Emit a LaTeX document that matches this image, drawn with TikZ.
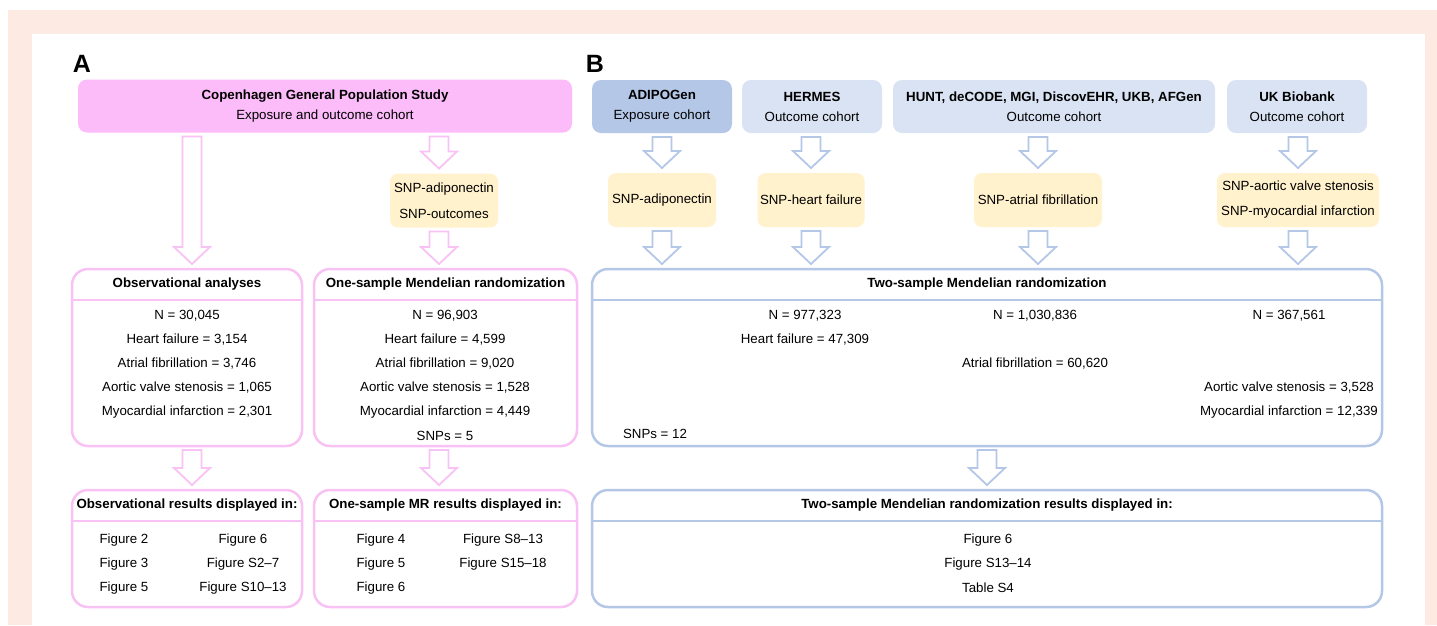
\documentclass[tikz,border=0pt]{standalone}
\usepackage{fontspec}
\setmainfont{Liberation Sans}
\usepackage{tikz}
\usetikzlibrary{arrows.meta}
\usetikzlibrary{positioning}
\usetikzlibrary{calc}

\definecolor{peach}{HTML}{FCEAE3}
\definecolor{pinkfill}{HTML}{FCBBF9}
\definecolor{pinkline}{HTML}{F8C2F4}
\definecolor{bluedark}{HTML}{B4C7E7}
\definecolor{bluelight}{HTML}{DAE3F3}
\definecolor{yellowfill}{HTML}{FFF2CC}

\tikzset{
	every node/.style={font=\fontsize{13.3}{20}\selectfont, inner sep=0pt, outer sep=0pt},
	panel/.style={font=\fontsize{25}{25}\selectfont\bfseries},
	cohort/.style={rounded corners=9pt, minimum height=53pt, align=center},
	snpbox/.style={fill=yellowfill, rounded corners=8pt, minimum height=54pt, align=center},
	bigbox/.style={draw, line width=2.5pt, fill=white, rounded corners=16pt},
	fatarrow/.style={line width=1.8pt, line join=miter, to path={let \p1=(\tikztostart), \p2=(\tikztotarget) in
		(\x1-9.5,\y1-4) -- (\x1+9.5,\y1-4) -- (\x1+9.5,\y2+22) -- (\x1+18,\y2+22) -- (\x1,\y2+5)
		-- (\x1-18,\y2+22) -- (\x1-9.5,\y2+22) -- cycle}},
	pinkarrow/.style={fatarrow, draw=pinkline},
	bluearrow/.style={fatarrow, draw=bluedark},
}

\begin{document}
\begin{tikzpicture}[x=1pt, y=-1pt, >=Stealth]
	\useasboundingbox (0,0) rectangle (1437,625);
	\fill[peach] (8,10) rectangle (1437,625);
	\fill[white] (32,34) rectangle (1425,625);

	% panel A
	\node[panel] (labA) at (82,64) {A};
	\node[cohort, fill=pinkfill, minimum width=494pt] (cgps) at (325,106) {\textbf{Copenhagen General Population Study}\\Exposure and outcome cohort};
	\node[snpbox, minimum width=108pt] (snpA) at (444,200.5) {SNP-adiponectin\\[6pt]SNP-outcomes};
	\coordinate (colL) at (192,0);
	\coordinate (colR) at (439,0);

	\node[bigbox, draw=pinkline, minimum width=230pt, minimum height=177pt] (obs) at (187,357.5) {};
	\node[bigbox, draw=pinkline, minimum width=263pt, minimum height=177pt] (onesmr) at (445.5,357.5) {};
	\node[bigbox, draw=pinkline, minimum width=230pt, minimum height=117pt] (obsres) at (187,548.5) {};
	\node[bigbox, draw=pinkline, minimum width=263pt, minimum height=117pt] (onesres) at (445.5,548.5) {};
	\foreach \b in {obs, onesmr, obsres, onesres}
		\draw[pinkline, line width=2.5pt] ([yshift=-31pt]\b.north west) -- ([yshift=-31pt]\b.north east);

	\node (obshead) at ([yshift=-15.5pt]obs.north) {\textbf{Observational analyses}};
	\node (oneshead) at ([yshift=-15.5pt]onesmr.north) {\textbf{One-sample Mendelian randomization}};
	\node (obsreshead) at ([yshift=-15.5pt]obsres.north) {\textbf{Observational results displayed in:}};
	\node (onesreshead) at ([yshift=-15.5pt]onesres.north) {\textbf{One-sample MR results displayed in:}};

	\foreach \t [count=\i] in {{N = 30,045}, {Heart failure = 3,154}, {Atrial fibrillation = 3,746},
		{Aortic valve stenosis = 1,065}, {Myocardial infarction = 2,301}}
		\node (obsrow\i) at (187,292+24*\i) {\t};
	\foreach \t [count=\i] in {{N = 96,903}, {Heart failure = 4,599}, {Atrial fibrillation = 9,020},
		{Aortic valve stenosis = 1,528}, {Myocardial infarction = 4,449}, {SNPs = 5}}
		\node (onesrow\i) at (445,292+24*\i) {\t};

	\foreach \t [count=\i] in {Figure 2, Figure 3, Figure 5}
		\node (obsresa\i) at (124,516+24*\i) {\t};
	\foreach \t [count=\i] in {Figure 6, Figure S2--7, Figure S10--13}
		\node (obsresb\i) at (243,516+24*\i) {\t};
	\foreach \t [count=\i] in {Figure 4, Figure 5, Figure 6}
		\node (onesresa\i) at (381,516+24*\i) {\t};
	\foreach \t [count=\i] in {Figure S8--13, Figure S15--18}
		\node (onesresb\i) at (503,516+24*\i) {\t};

	\draw[pinkarrow] (colL |- cgps.south) to (colL |- obs.north);
	\draw[pinkarrow] (colR |- cgps.south) to (colR |- snpA.north);
	\draw[pinkarrow] (colR |- snpA.south) to (colR |- onesmr.north);
	\draw[pinkarrow] (colL |- obs.south) to (colL |- obsres.north);
	\draw[pinkarrow] (colR |- onesmr.south) to (colR |- onesres.north);

	% panel B
	\node[panel] (labB) at (595,64) {B};
	\node[cohort, fill=bluedark, minimum width=140pt] (adipo) at (662,106.5) {\textbf{ADIPOGen}\\Exposure cohort};
	\node[cohort, fill=bluelight, minimum width=140pt] (hermes) at (812,106.5) {\textbf{HERMES}\\Outcome cohort};
	\node[cohort, fill=bluelight, minimum width=322pt] (hunt) at (1054,106.5) {\textbf{HUNT, deCODE, MGI, DiscovEHR, UKB, AFGen}\\Outcome cohort};
	\node[cohort, fill=bluelight, minimum width=140pt] (ukb) at (1297,106.5) {\textbf{UK Biobank}\\Outcome cohort};

	\node[snpbox, minimum width=108pt] (snpB1) at (662,200) {SNP-adiponectin};
	\node[snpbox, minimum width=107pt] (snpB2) at (811,200) {SNP-heart failure};
	\node[snpbox, minimum width=128pt] (snpB3) at (1038,200) {SNP-atrial fibrillation};
	\node[snpbox, minimum width=162pt] (snpB4) at (1298,200) {SNP-aortic valve stenosis\\[5pt]SNP-myocardial infarction};

	\node[bigbox, draw=bluedark, minimum width=790pt, minimum height=177pt] (tsmr) at (987,357.5) {};
	\node[bigbox, draw=bluedark, minimum width=790pt, minimum height=117pt] (tsres) at (987,548.5) {};
	\foreach \b in {tsmr, tsres}
		\draw[bluedark, line width=2.5pt] ([yshift=-31pt]\b.north west) -- ([yshift=-31pt]\b.north east);
	\node (tshead) at ([yshift=-15.5pt]tsmr.north) {\textbf{Two-sample Mendelian randomization}};
	\node (tsreshead) at ([yshift=-15.5pt]tsres.north) {\textbf{Two-sample Mendelian randomization results displayed in:}};

	\node (hfn) at (805,316) {N = 977,323};
	\node (hfcase) at (805,340) {Heart failure = 47,309};
	\node (afn) at (1035,316) {N = 1,030,836};
	\node (afcase) at (1035,364) {Atrial fibrillation = 60,620};
	\node (ukbn) at (1289,316) {N = 367,561};
	\node (avscase) at (1289,388) {Aortic valve stenosis = 3,528};
	\node (micase) at (1289,412) {Myocardial infarction = 12,339};
	\node (tssnps) at (655,434) {SNPs = 12};

	\foreach \t [count=\i] in {Figure 6, Figure S13--14, Table S4}
		\node (tsresrow\i) at (988,516+24*\i) {\t};

	\foreach \s/\c in {snpB1/adipo, snpB2/hermes, snpB3/hunt, snpB4/ukb}{
		\draw[bluearrow] (\s |- \c.south) to (\s.north);
		\draw[bluearrow] (\s.south) to (\s |- tsmr.north);
	}
	\draw[bluearrow] (tsmr.south) to (tsres.north);
\end{tikzpicture}
\end{document}
